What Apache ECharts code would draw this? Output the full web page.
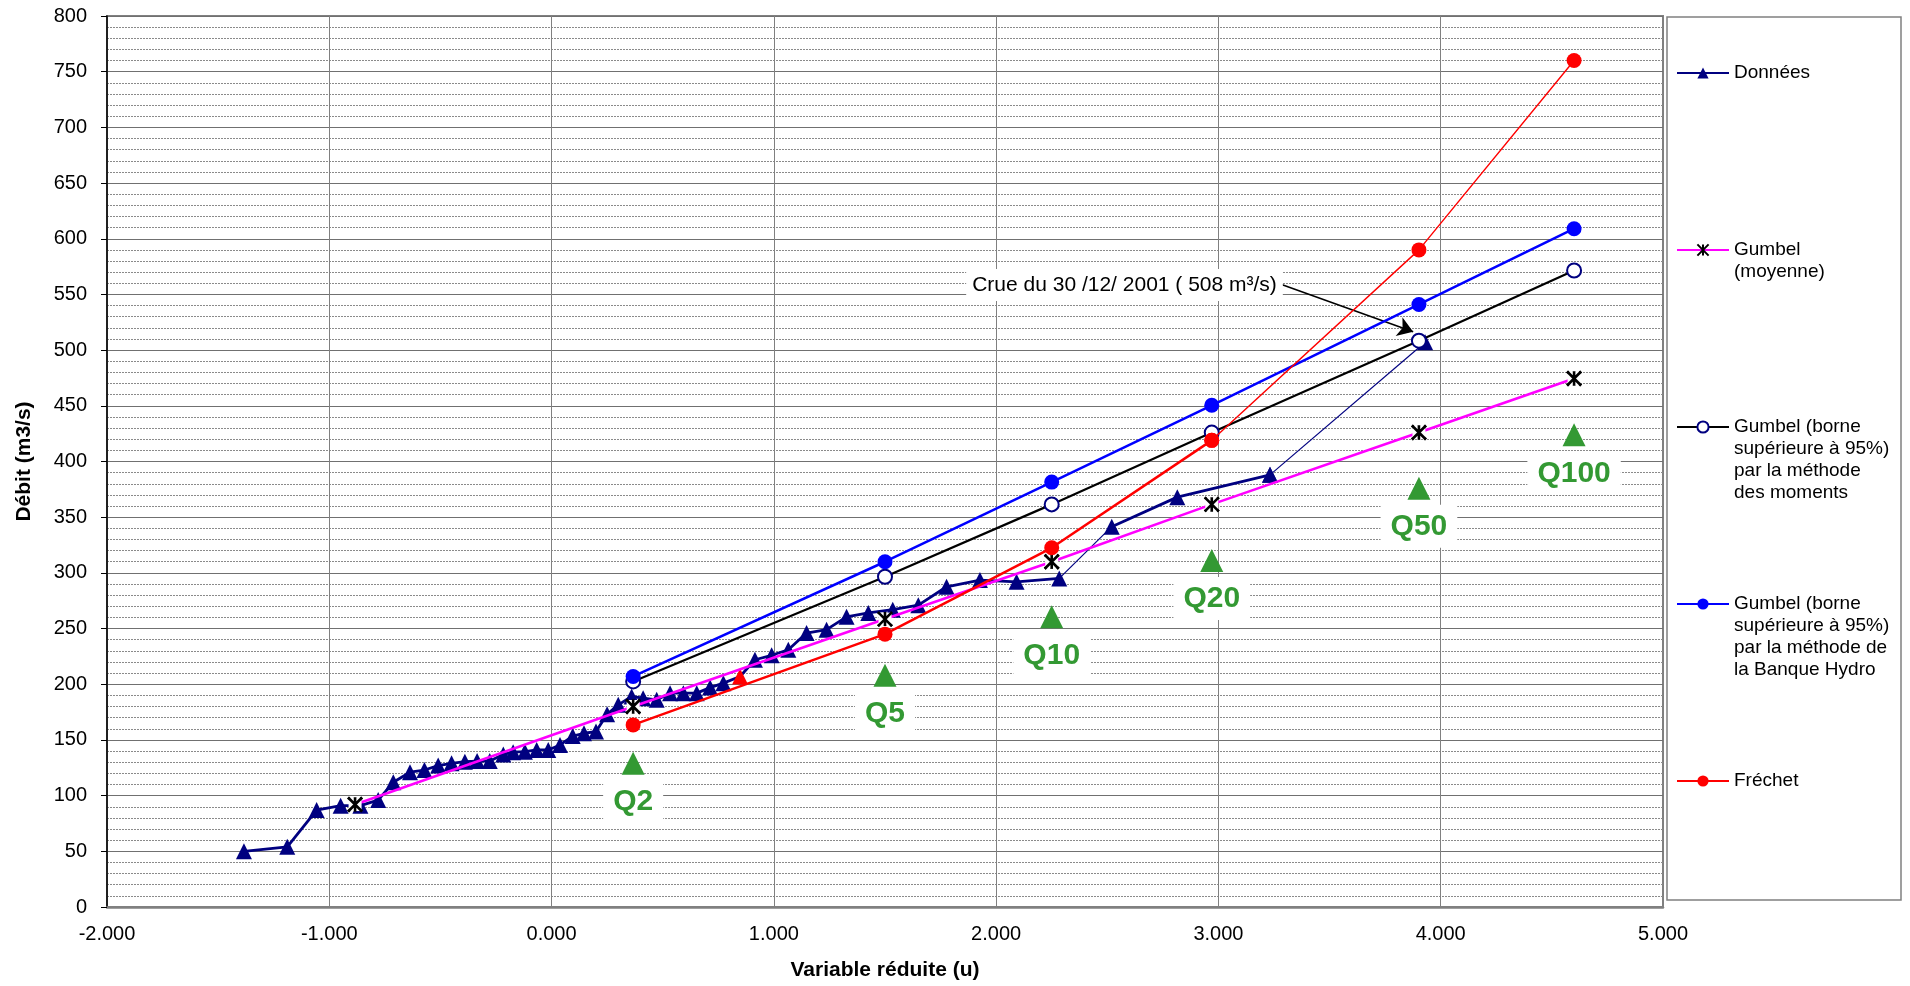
<!DOCTYPE html>
<html>
<head>
<meta charset="utf-8">
<script src="https://cdn.jsdelivr.net/npm/echarts@6/dist/echarts.min.js"></script>
<style>html,body{margin:0;padding:0;background:#fff}#c{width:1910px;height:986px}</style>
</head>
<body>
<div id="c"></div>
<script>
// ---------- data ----------
const donneesU = [-1.384,-1.189,-1.057,-0.949,-0.860,-0.780,-0.712,-0.637,-0.572,-0.510,-0.450,-0.390,-0.335,-0.278,-0.217,-0.173,-0.120,-0.067,-0.015,0.038,0.095,0.146,0.200,0.250,0.300,0.360,0.412,0.473,0.533,0.593,0.653,0.713,0.773,0.848,0.915,0.990,1.065,1.147,1.237,1.327,1.425,1.535,1.650,1.777,1.927,2.092,2.284,2.520,2.815,3.232,3.930];
const donneesV = [50,54,87,91,91,96,112,121,123,127,129,130.5,131,131,137,139,139.5,141,141,145.5,153.5,156,157.5,173,181.5,189,187.5,186,192,192,192,197,201,207,222,226,231,246,249,260.5,264,267,271,287.5,293.5,292,295,341.5,368,388,507];
const donneesRedIndex = 33;

const gumbelU = [-0.884,0.367,1.500,2.250,2.970,3.902,4.600];
const gumbelV = [92,180,258.5,310,361.5,426,474.5];

const periodU = [0.367,1.500,2.250,2.970,3.902,4.600];
const momentsV = [202.5,296.5,361.5,426,508.5,571.5];
const hydroV = [207,310,381.5,450.5,541,609];
const frechetV = [163.5,245,322.5,419,590,760];

const quantileNames = ['Q2','Q5','Q10','Q20','Q50','Q100'];
const quantileV = [129,208,260.5,311,376,424];

const crueText = 'Crue du 30 /12/ 2001 ( 508 m³/s)';
const crueLabelAt = [3.31, 558.5];
const crueArrowFrom = [3.284, 559];
const crueArrowTo = [3.876, 516.5];

const seriesNames = {
  don: 'Données',
  gum: 'Gumbel (moyenne)',
  mom: 'Gumbel (borne supérieure à 95%) par la méthode des moments',
  hyd: 'Gumbel (borne supérieure à 95%) par la méthode de la Banque Hydro',
  fre: 'Fréchet'
};

// ---------- styles ----------
const FONT = '"Liberation Sans", Arial, Helvetica, sans-serif';
const NAVY = '#000080', PINK = '#FF00FF', BLUE = '#0000FF', RED = '#FF0000', GREEN = '#339933';
const STAR = 'path://M0,0L10,10M10,0L0,10M5,0L5,10';

const pts = (us, vs) => us.map((u, i) => [u, vs[i]]);
const donData = donneesU.map((u, i) => i === donneesRedIndex
  ? { value: [u, donneesV[i]], itemStyle: { color: RED } }
  : [u, donneesV[i]]);
const gumData = pts(gumbelU, gumbelV);
const freData = pts(periodU, frechetV);

function donSeries(from, to, thin, withSymbol) {
  return {
    name: seriesNames.don, type: 'line', data: donData.slice(from, to + 1),
    symbol: withSymbol ? 'triangle' : 'none', symbolSize: 16, showSymbol: withSymbol,
    itemStyle: { color: NAVY },
    lineStyle: { color: NAVY, width: thin ? 1.2 : 2.8 },
    z: 3
  };
}

const series = [
  Object.assign(donSeries(0, 46, false, true), {
    markLine: {
      silent: true, symbol: ['none', 'arrow'], symbolSize: 15, animation: false,
      lineStyle: { color: '#000', width: 1.6, type: 'solid' },
      label: { show: false },
      data: [[{ coord: crueArrowFrom }, { coord: crueArrowTo }]]
    },
    markPoint: {
      silent: true, animation: false,
      data: [{
        coord: crueLabelAt, symbol: 'circle', symbolSize: 1,
        itemStyle: { color: 'rgba(0,0,0,0)' },
        label: {
          show: true, position: 'left', distance: 4, formatter: crueText,
          color: '#000', fontFamily: FONT, fontSize: 21,
          backgroundColor: '#fff', padding: [6, 6, 5, 6]
        }
      }]
    }
  }),
  donSeries(46, 47, true, false),
  donSeries(47, 49, false, true),
  donSeries(49, 50, true, true),
  {
    name: seriesNames.gum, type: 'line', data: gumData,
    symbol: STAR, symbolSize: 14,
    itemStyle: { color: '#000', borderColor: '#000', borderWidth: 2.6 },
    lineStyle: { color: PINK, width: 2.6 }, z: 4
  },
  {
    name: '_gapG', type: 'scatter', data: gumData, symbol: 'rect', symbolSize: 13,
    itemStyle: { color: '#fff', opacity: 1 }, silent: true, z: 4
  },
  {
    name: '_starG', type: 'scatter', data: gumData, symbol: STAR, symbolSize: 14,
    itemStyle: { color: '#000', borderColor: '#000', borderWidth: 2.6, opacity: 1 }, silent: true, z: 4
  },
  {
    name: seriesNames.mom, type: 'line', data: pts(periodU, momentsV),
    symbol: 'circle', symbolSize: 14,
    itemStyle: { color: '#fff', borderColor: NAVY, borderWidth: 2 },
    lineStyle: { color: '#000', width: 2.2 }, z: 5
  },
  {
    name: seriesNames.hyd, type: 'line', data: pts(periodU, hydroV),
    symbol: 'circle', symbolSize: 15,
    itemStyle: { color: BLUE },
    lineStyle: { color: BLUE, width: 2.5 }, z: 5
  },
  {
    name: seriesNames.fre, type: 'line', data: freData.slice(0, 4),
    symbol: 'circle', symbolSize: 15,
    itemStyle: { color: RED },
    lineStyle: { color: RED, width: 2.5 }, z: 6
  },
  {
    name: seriesNames.fre, type: 'line', data: freData.slice(3),
    symbol: 'circle', symbolSize: 15,
    itemStyle: { color: RED },
    lineStyle: { color: RED, width: 1.4 }, z: 6
  },
  {
    name: 'Quantiles', type: 'scatter',
    data: quantileNames.map((n, i) => ({ name: n, value: [periodU[i], quantileV[i]] })),
    symbol: 'triangle', symbolSize: 23, itemStyle: { color: GREEN, opacity: 1 }, z: 7,
    label: {
      show: true, position: 'bottom', distance: 5, formatter: '{b}',
      color: GREEN, fontFamily: FONT, fontSize: 30, fontWeight: 'bold',
      backgroundColor: '#fff', padding: [7, 10, 6, 10]
    }
  }
];

// ---------- legend (one component per entry, icon aligned with first line) ----------
const LH = 22;
const legendRows = [
  { name: seriesNames.don, text: 'Données', lines: 1, iconY: 73 },
  { name: seriesNames.gum, text: 'Gumbel\n(moyenne)', lines: 2, iconY: 250 },
  { name: seriesNames.mom, text: 'Gumbel (borne\nsupérieure à 95%)\npar la méthode\ndes moments', lines: 4, iconY: 427 },
  { name: seriesNames.hyd, text: 'Gumbel (borne\nsupérieure à 95%)\npar la méthode de\nla Banque Hydro', lines: 4, iconY: 604 },
  { name: seriesNames.fre, text: 'Fréchet', lines: 1, iconY: 781 }
];
const legends = legendRows.map(r => ({
  data: [r.name], orient: 'vertical', left: 1676,
  top: r.iconY - (2 * r.lines - 1) * LH / 2, padding: 0,
  itemWidth: 52, itemHeight: 14, selectedMode: false,
  formatter: () => '\n'.repeat(r.lines - 1) + r.text,
  textStyle: { fontFamily: FONT, fontSize: 19, lineHeight: LH, color: '#000' }
}));

const chart = echarts.init(document.getElementById('c'));
chart.setOption({
  animation: false,
  backgroundColor: '#fff',
  textStyle: { fontFamily: FONT },
  grid: { left: 107, right: 247, top: 16, bottom: 79, show: true, borderColor: '#808080', borderWidth: 2, backgroundColor: '#fff' },
  legend: legends,
  graphic: [{
    type: 'rect', silent: true, z: -1,
    shape: { x: 1667, y: 17, width: 234, height: 883 },
    style: { fill: '#fff', stroke: '#808080', lineWidth: 1.5 }
  }],
  xAxis: {
    type: 'value', min: -2, max: 5, interval: 1,
    axisLine: { onZero: false, lineStyle: { color: '#808080', width: 2.5 } },
    axisTick: { show: false },
    axisLabel: { formatter: v => v.toFixed(3), fontFamily: FONT, fontSize: 20, color: '#000', margin: 17 },
    splitLine: { show: true, lineStyle: { color: '#808080', width: 1 } },
    name: 'Variable réduite (u)', nameLocation: 'middle', nameGap: 53,
    nameTextStyle: { fontFamily: FONT, fontSize: 21, fontWeight: 'bold', color: '#000' }
  },
  yAxis: {
    type: 'value', min: 0, max: 800, interval: 50,
    axisLine: { show: true, onZero: false, lineStyle: { color: '#000', width: 1.5 } },
    axisTick: { show: true, length: 6, lineStyle: { color: '#000' } },
    axisLabel: { fontFamily: FONT, fontSize: 20, color: '#000', margin: 20 },
    splitLine: { show: true, lineStyle: { color: '#707070', width: 1 } },
    minorTick: { show: false, splitNumber: 5 },
    minorSplitLine: { show: true, lineStyle: { color: '#8a8a8a', width: 1, type: [2, 1] } },
    name: 'Débit (m3/s)', nameLocation: 'middle', nameGap: 72, nameRotate: 90,
    nameTextStyle: { fontFamily: FONT, fontSize: 21, fontWeight: 'bold', color: '#000' }
  },
  series: series
});
</script>
</body>
</html>
